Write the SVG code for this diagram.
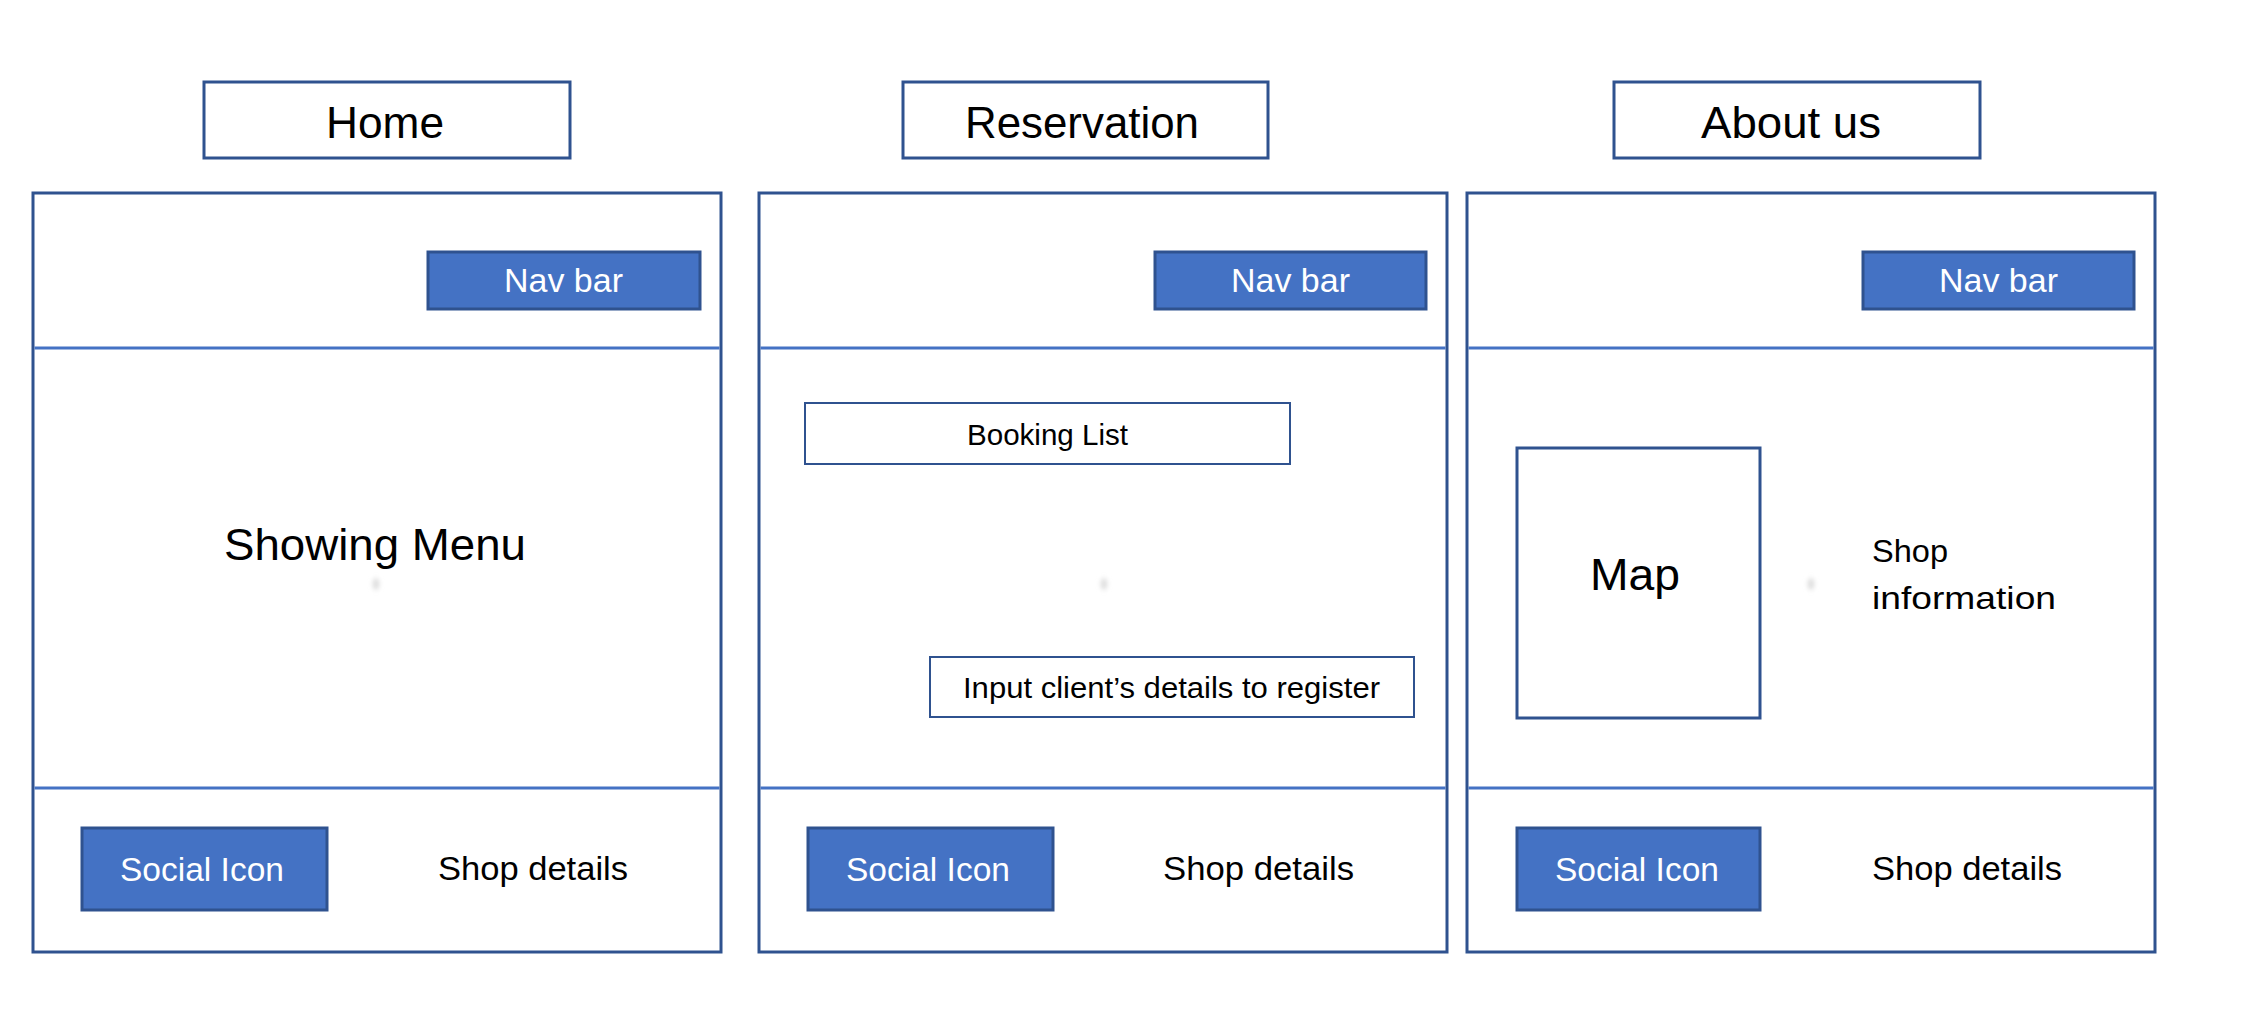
<svg xmlns="http://www.w3.org/2000/svg" width="2254" height="1026" viewBox="0 0 2254 1026">
  <defs>
    <style>
      .bg { fill: #ffffff; }
      .title-box { fill: #ffffff; stroke: #2F528F; stroke-width: 3; }
      .panel { fill: #ffffff; stroke: #2F528F; stroke-width: 3; }
      .divider { stroke: #4472C4; stroke-width: 3; fill: none; }
      .btn { fill: #4472C4; stroke: #2F528F; stroke-width: 3; }
      .thin-box { fill: #ffffff; stroke: #2F528F; stroke-width: 2; }
      .map-box { fill: #ffffff; stroke: #2F528F; stroke-width: 3; }
      text { font-family: "Liberation Sans", Arial, sans-serif; }
      .t-title { font-size: 45px; fill: #000000; }
      .t-btn { font-size: 33px; fill: #ffffff; }
      .t-body { font-size: 34px; fill: #000000; }
      .t-big { font-size: 44px; fill: #000000; }
      .t-small { font-size: 30px; fill: #000000; }
      .t-info { font-size: 32px; fill: #000000; }
      .dot { fill: #d8d8d8; }
    </style>
    <filter id="blur" x="-2" y="-2" width="5" height="5">
      <feGaussianBlur stdDeviation="2.5"/>
    </filter>
  </defs>

  <rect class="bg" x="0" y="0" width="2254" height="1026"/>

  <!-- Titles -->
  <g id="title-home">
    <rect class="title-box" x="204" y="82" width="366" height="76"/>
    <text class="t-title" x="326" y="138" textLength="118" lengthAdjust="spacingAndGlyphs">Home</text>
  </g>
  <g id="title-reservation">
    <rect class="title-box" x="903" y="82" width="365" height="76"/>
    <text class="t-title" x="965" y="138" textLength="234" lengthAdjust="spacingAndGlyphs">Reservation</text>
  </g>
  <g id="title-about">
    <rect class="title-box" x="1614" y="82" width="366" height="76"/>
    <text class="t-title" x="1701" y="138" textLength="180" lengthAdjust="spacingAndGlyphs">About us</text>
  </g>

  <!-- Panel 1: Home -->
  <g id="panel-home">
    <rect class="panel" x="33" y="193" width="688" height="759"/>
    <line class="divider" x1="34.5" y1="348" x2="719.5" y2="348"/>
    <line class="divider" x1="34.5" y1="788" x2="719.5" y2="788"/>
  </g>
  <g id="home-navbar">
    <rect class="btn" x="428" y="252" width="272" height="57"/>
    <text class="t-btn" x="504" y="292" textLength="119" lengthAdjust="spacingAndGlyphs">Nav bar</text>
  </g>
  <g id="home-menu">
    <text class="t-big" x="224" y="560" textLength="302" lengthAdjust="spacingAndGlyphs">Showing Menu</text>
    <ellipse class="dot" cx="376" cy="584" rx="3" ry="6" filter="url(#blur)"/>
  </g>
  <g id="home-social">
    <rect class="btn" x="82" y="828" width="245" height="82"/>
    <text class="t-btn" x="120" y="881" textLength="164" lengthAdjust="spacingAndGlyphs">Social Icon</text>
  </g>
  <g id="home-shop">
    <text class="t-body" x="438" y="880" textLength="190" lengthAdjust="spacingAndGlyphs">Shop details</text>
  </g>

  <!-- Panel 2: Reservation -->
  <g id="panel-reservation">
    <rect class="panel" x="759" y="193" width="688" height="759"/>
    <line class="divider" x1="760.5" y1="348" x2="1445.5" y2="348"/>
    <line class="divider" x1="760.5" y1="788" x2="1445.5" y2="788"/>
  </g>
  <g id="res-navbar">
    <rect class="btn" x="1155" y="252" width="271" height="57"/>
    <text class="t-btn" x="1231" y="292" textLength="119" lengthAdjust="spacingAndGlyphs">Nav bar</text>
  </g>
  <g id="res-booking">
    <rect class="thin-box" x="805" y="403" width="485" height="61"/>
    <text class="t-small" x="967" y="445" textLength="161" lengthAdjust="spacingAndGlyphs">Booking List</text>
  </g>
  <ellipse class="dot" cx="1104" cy="584" rx="3" ry="6" filter="url(#blur)"/>
  <g id="res-input">
    <rect class="thin-box" x="930" y="657" width="484" height="60"/>
    <text class="t-small" x="963" y="698" textLength="417" lengthAdjust="spacingAndGlyphs">Input client’s details to register</text>
  </g>
  <g id="res-social">
    <rect class="btn" x="808" y="828" width="245" height="82"/>
    <text class="t-btn" x="846" y="881" textLength="164" lengthAdjust="spacingAndGlyphs">Social Icon</text>
  </g>
  <g id="res-shop">
    <text class="t-body" x="1163" y="880" textLength="191" lengthAdjust="spacingAndGlyphs">Shop details</text>
  </g>

  <!-- Panel 3: About us -->
  <g id="panel-about">
    <rect class="panel" x="1467" y="193" width="688" height="759"/>
    <line class="divider" x1="1468.5" y1="348" x2="2153.5" y2="348"/>
    <line class="divider" x1="1468.5" y1="788" x2="2153.5" y2="788"/>
  </g>
  <g id="about-navbar">
    <rect class="btn" x="1863" y="252" width="271" height="57"/>
    <text class="t-btn" x="1939" y="292" textLength="119" lengthAdjust="spacingAndGlyphs">Nav bar</text>
  </g>
  <g id="about-map">
    <rect class="map-box" x="1517" y="448" width="243" height="270"/>
    <text class="t-big" x="1590" y="590" textLength="90" lengthAdjust="spacingAndGlyphs">Map</text>
  </g>
  <ellipse class="dot" cx="1811" cy="584" rx="3" ry="6" filter="url(#blur)"/>
  <g id="about-info">
    <text class="t-info" x="1872" y="562" textLength="76" lengthAdjust="spacingAndGlyphs">Shop</text>
    <text class="t-info" x="1872" y="609" textLength="184" lengthAdjust="spacingAndGlyphs">information</text>
  </g>
  <g id="about-social">
    <rect class="btn" x="1517" y="828" width="243" height="82"/>
    <text class="t-btn" x="1555" y="881" textLength="164" lengthAdjust="spacingAndGlyphs">Social Icon</text>
  </g>
  <g id="about-shop">
    <text class="t-body" x="1872" y="880" textLength="190" lengthAdjust="spacingAndGlyphs">Shop details</text>
  </g>

  <g id="connectors"></g>
</svg>
